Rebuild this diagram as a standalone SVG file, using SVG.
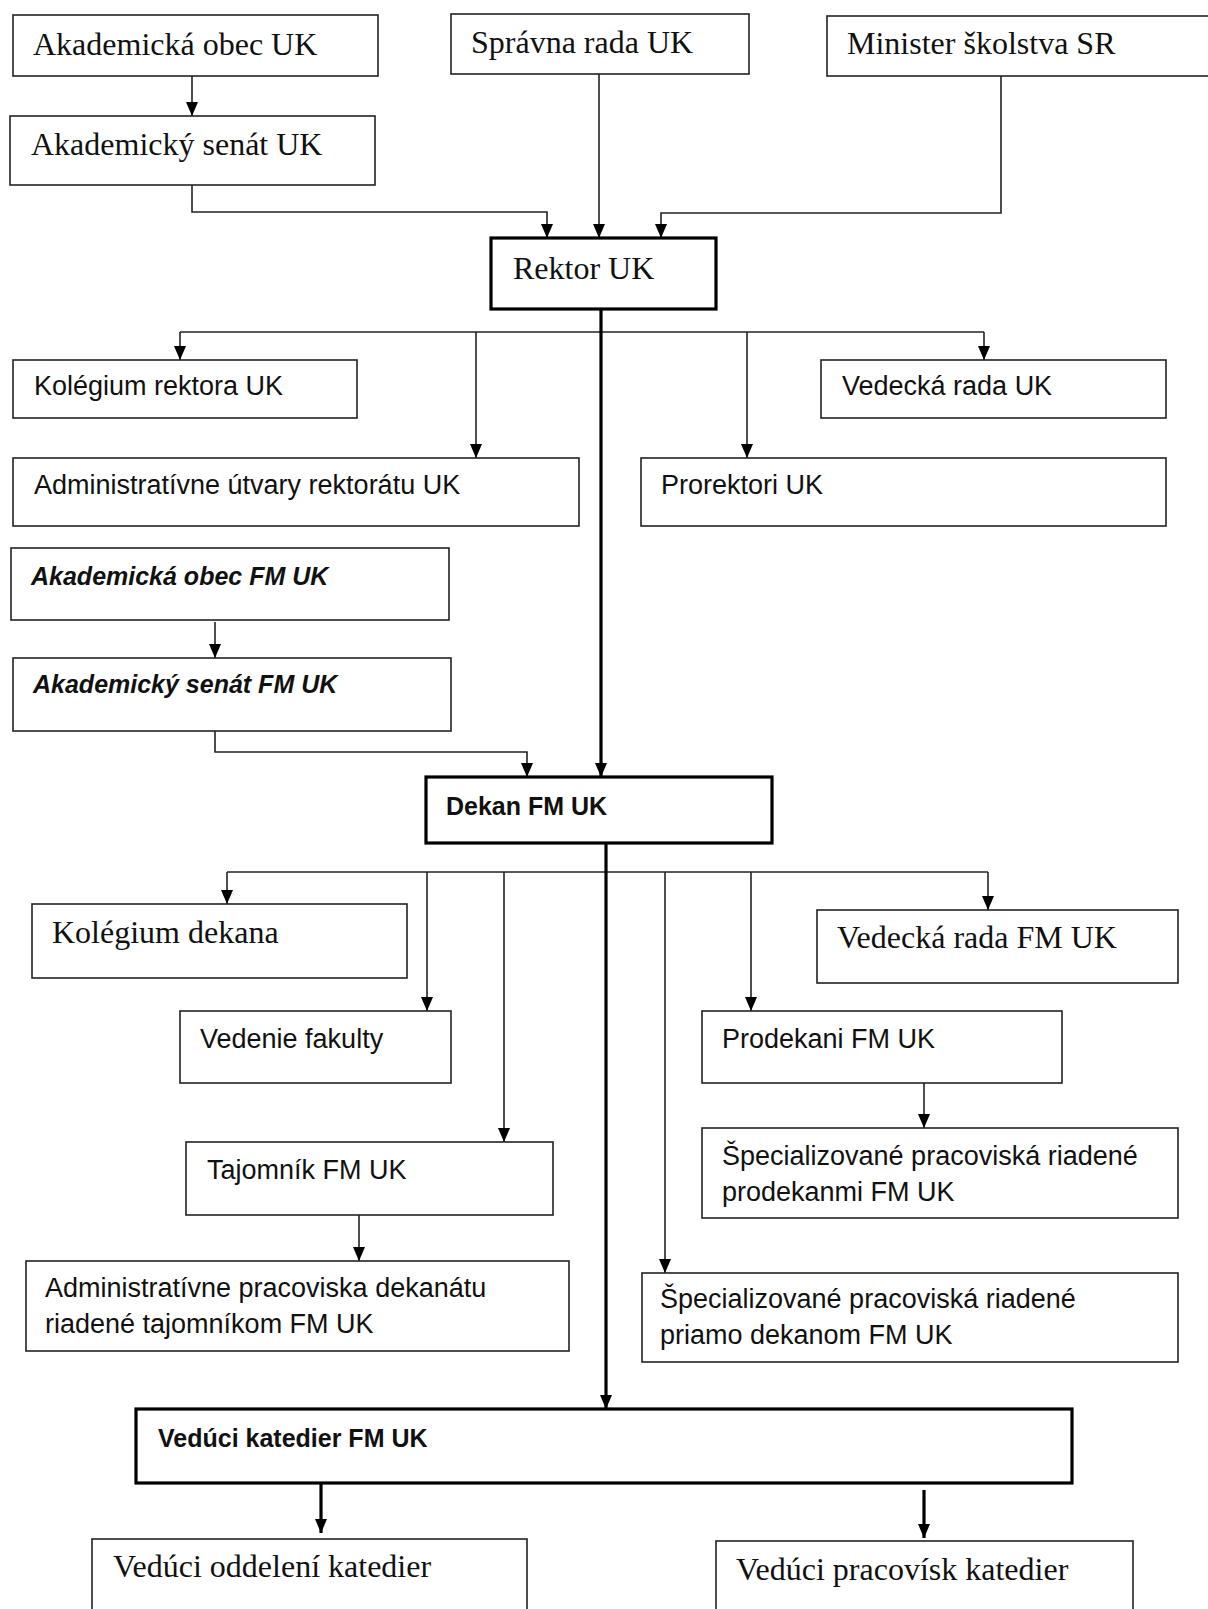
<svg xmlns="http://www.w3.org/2000/svg" width="1208" height="1609" viewBox="0 0 1208 1609">
<style>
.box{fill:#fff;stroke:#222;stroke-width:1.6}
.thick{fill:#fff;stroke:#000;stroke-width:3.2}
.ln{fill:none;stroke:#222;stroke-width:1.6}
.lnb{fill:none;stroke:#000;stroke-width:3.2}
.serif{font-family:"Liberation Serif","Times New Roman",serif;font-size:32px;fill:#111}
.sans{font-family:"Liberation Sans",Arial,sans-serif;font-size:27px;fill:#111}
.bi{font-family:"Liberation Sans",Arial,sans-serif;font-size:25px;font-weight:bold;font-style:italic;fill:#111}
.b{font-family:"Liberation Sans",Arial,sans-serif;font-size:25px;font-weight:bold;fill:#111}
</style>
<defs>
<marker id="arr" viewBox="0 0 14 12" markerWidth="14" markerHeight="12" refX="14" refY="6" orient="auto" markerUnits="userSpaceOnUse">
<path d="M0,0 L14,6 L0,12 z" fill="#000"/>
</marker>
</defs>
<rect width="1208" height="1609" fill="#fff"/>

<g id="connectors">
<path class="ln" d="M192,76 V116" marker-end="url(#arr)"/>
<path class="ln" d="M192,185 V212 H547 V238" marker-end="url(#arr)"/>
<path class="ln" d="M599,74 V238" marker-end="url(#arr)"/>
<path class="ln" d="M1001,76 V213 H661 V238" marker-end="url(#arr)"/>
<path class="ln" d="M180,332 H984"/>
<path class="ln" d="M180,332 V360" marker-end="url(#arr)"/>
<path class="ln" d="M476,332 V458" marker-end="url(#arr)"/>
<path class="ln" d="M747,332 V458" marker-end="url(#arr)"/>
<path class="ln" d="M984,332 V360" marker-end="url(#arr)"/>
<path class="lnb" d="M601,309 V777" marker-end="url(#arr)"/>
<path class="ln" d="M215,622 V658" marker-end="url(#arr)"/>
<path class="ln" d="M215,731 V752 H527 V777" marker-end="url(#arr)"/>
<path class="ln" d="M227,872 H988"/>
<path class="ln" d="M227,872 V904" marker-end="url(#arr)"/>
<path class="ln" d="M427,872 V1011" marker-end="url(#arr)"/>
<path class="ln" d="M504,872 V1142" marker-end="url(#arr)"/>
<path class="ln" d="M665,872 V1273" marker-end="url(#arr)"/>
<path class="ln" d="M751,872 V1011" marker-end="url(#arr)"/>
<path class="ln" d="M988,872 V910" marker-end="url(#arr)"/>
<path class="ln" d="M924,1083 V1128" marker-end="url(#arr)"/>
<path class="ln" d="M359,1215 V1261" marker-end="url(#arr)"/>
<path class="lnb" d="M606,843 V1409" marker-end="url(#arr)"/>
<path class="lnb" d="M321,1484 V1533" marker-end="url(#arr)"/>
<path class="lnb" d="M924,1490 V1538" marker-end="url(#arr)"/>
</g>

<g id="akademicka-obec-uk"><rect class="box" x="13" y="15" width="365" height="61"/><text class="serif" x="33" y="55">Akademická obec UK</text></g>
<g id="akademicky-senat-uk"><rect class="box" x="10" y="116" width="365" height="69"/><text class="serif" x="31" y="155">Akademický senát UK</text></g>
<g id="spravna-rada-uk"><rect class="box" x="451" y="14" width="298" height="60"/><text class="serif" x="471" y="53">Správna rada UK</text></g>
<g id="minister-skolstva-sr"><rect class="box" x="827" y="16" width="400" height="60"/><text class="serif" x="847" y="54">Minister školstva SR</text></g>
<g id="rektor-uk"><rect class="thick" x="491" y="238" width="225" height="71"/><text class="serif" x="513" y="279">Rektor UK</text></g>

<g id="kolegium-rektora-uk"><rect class="box" x="13" y="360" width="344" height="58"/><text class="sans" x="34" y="395">Kolégium rektora UK</text></g>
<g id="vedecka-rada-uk"><rect class="box" x="821" y="360" width="345" height="58"/><text class="sans" x="842" y="395">Vedecká rada UK</text></g>
<g id="administrativne-utvary"><rect class="box" x="13" y="458" width="566" height="68"/><text class="sans" x="34" y="494">Administratívne útvary rektorátu UK</text></g>
<g id="prorektori-uk"><rect class="box" x="641" y="458" width="525" height="68"/><text class="sans" x="661" y="494">Prorektori UK</text></g>

<g id="akademicka-obec-fm"><rect class="box" x="11" y="548" width="438" height="72"/><text class="bi" x="31" y="585">Akademická obec FM UK</text></g>
<g id="akademicky-senat-fm"><rect class="box" x="13" y="658" width="438" height="73"/><text class="bi" x="33" y="693">Akademický senát FM UK</text></g>
<g id="dekan-fm-uk"><rect class="thick" x="426" y="777" width="346" height="66"/><text class="b" x="446" y="815">Dekan FM UK</text></g>

<g id="kolegium-dekana"><rect class="box" x="32" y="904" width="375" height="74"/><text class="serif" x="52" y="943">Kolégium dekana</text></g>
<g id="vedecka-rada-fm"><rect class="box" x="817" y="910" width="361" height="73"/><text class="serif" x="837" y="948">Vedecká rada FM UK</text></g>
<g id="vedenie-fakulty"><rect class="box" x="180" y="1011" width="271" height="72"/><text class="sans" x="200" y="1048">Vedenie fakulty</text></g>
<g id="prodekani-fm"><rect class="box" x="702" y="1011" width="360" height="72"/><text class="sans" x="722" y="1048">Prodekani FM UK</text></g>
<g id="specializovane-prodekanmi"><rect class="box" x="702" y="1128" width="476" height="90"/><text class="sans" x="722" y="1165">Špecializované pracoviská riadené</text><text class="sans" x="722" y="1201">prodekanmi FM UK</text></g>
<g id="tajomnik-fm"><rect class="box" x="186" y="1142" width="367" height="73"/><text class="sans" x="207" y="1179">Tajomník FM UK</text></g>
<g id="administrativne-pracoviska"><rect class="box" x="26" y="1261" width="543" height="90"/><text class="sans" x="45" y="1297">Administratívne pracoviska dekanátu</text><text class="sans" x="45" y="1333">riadené tajomníkom FM UK</text></g>
<g id="specializovane-priamo"><rect class="box" x="642" y="1273" width="536" height="89"/><text class="sans" x="660" y="1308">Špecializované pracoviská riadené</text><text class="sans" x="660" y="1344">priamo dekanom FM UK</text></g>

<g id="veduci-katedier"><rect class="thick" x="136" y="1409" width="936" height="74"/><text class="b" x="158" y="1447">Vedúci katedier FM UK</text></g>
<g id="veduci-oddeleni"><rect class="box" x="92" y="1539" width="435" height="100"/><text class="serif" x="113" y="1577">Vedúci oddelení katedier</text></g>
<g id="veduci-pracovisk"><rect class="box" x="716" y="1541" width="417" height="100"/><text class="serif" x="736" y="1580">Vedúci pracovísk katedier</text></g>
</svg>
